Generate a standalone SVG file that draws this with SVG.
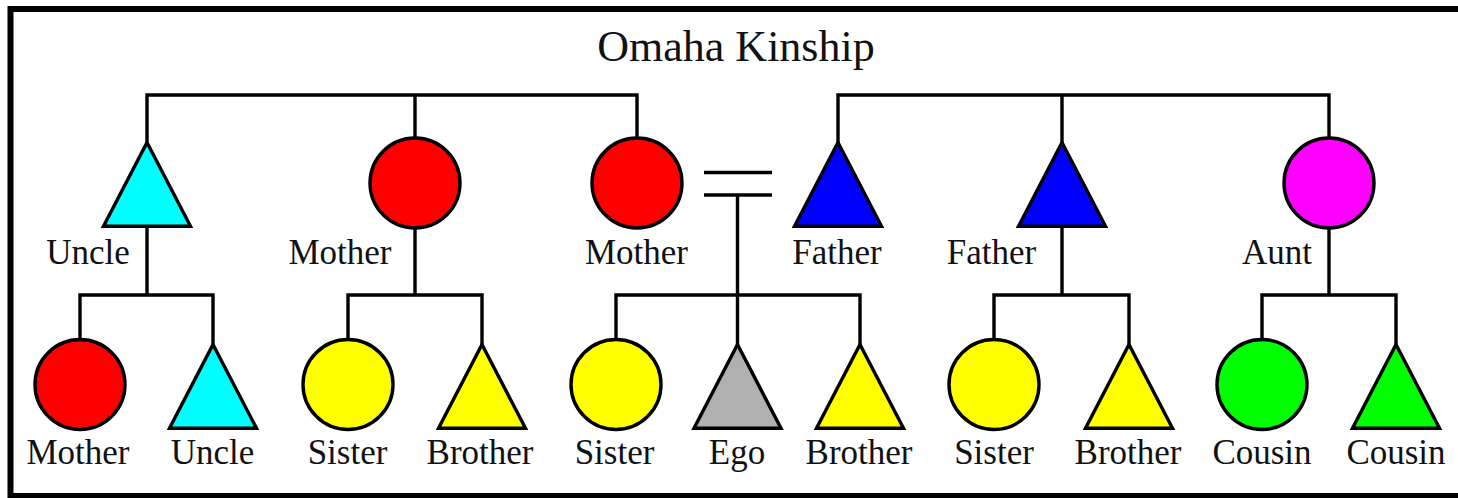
<svg xmlns="http://www.w3.org/2000/svg" width="1458" height="498" viewBox="0 0 1458 498">
<style>
.ln{fill:none;stroke:#000;stroke-width:3.4}
.nd{stroke:#000;stroke-width:3.4}
.lbl{font-family:"Liberation Serif","Times New Roman",serif;font-size:35px;fill:#111;text-anchor:middle}
.ttl{font-family:"Liberation Serif","Times New Roman",serif;font-size:44px;fill:#111;text-anchor:middle}
.cy{fill:#00FFFF}.rd{fill:#FF0000}.bl{fill:#0000FF}.mg{fill:#FF00FF}.ye{fill:#FFFF00}.gr{fill:#B0B0B0}.gn{fill:#00FF00}
</style>
<rect x="0" y="0" width="1458" height="498" fill="#fff"/>
<rect x="10.5" y="9" width="1460" height="487" fill="none" stroke="#000" stroke-width="6"/>
<text class="ttl" x="736" y="61">Omaha Kinship</text>
<g id="connectors">
<path class="ln" d="M147,143 V95 H637 V180 M415,95 V180"/>
<path class="ln" d="M838,143 V95 H1329 V180 M1062,95 V143"/>
<path class="ln" d="M147,226 V295 M80,384 V295 H213 V345"/>
<path class="ln" d="M415,228 V295 M348,384 V295 H482 V345"/>
<path class="ln" d="M704,172.5 H772 M704,195 H772 M737.5,195 V345 M616,384 V295 H860 V345"/>
<path class="ln" d="M1062,226 V295 M994,384 V295 H1129 V345"/>
<path class="ln" d="M1329,228 V295 M1262,384 V295 H1396 V345"/>
</g>
<g id="uncle-top"><path class="nd cy" d="M147,142.5 L190.5,226.3 L103.5,226.3 Z"/><text class="lbl" x="88" y="264">Uncle</text></g>
<g id="mother-top-1"><circle class="nd rd" cx="415" cy="183" r="45"/><text class="lbl" x="340" y="264">Mother</text></g>
<g id="mother-top-2"><circle class="nd rd" cx="637" cy="183" r="45"/><text class="lbl" x="636.5" y="264">Mother</text></g>
<g id="father-top-1"><path class="nd bl" d="M838,142.5 L881.5,226.3 L794.5,226.3 Z"/><text class="lbl" x="837" y="264">Father</text></g>
<g id="father-top-2"><path class="nd bl" d="M1062,142.5 L1105.5,226.3 L1018.5,226.3 Z"/><text class="lbl" x="991.5" y="264">Father</text></g>
<g id="aunt-top"><circle class="nd mg" cx="1329" cy="183" r="45"/><text class="lbl" x="1277" y="264">Aunt</text></g>
<g id="mother-bottom"><circle class="nd rd" cx="80" cy="384.5" r="45"/><text class="lbl" x="78" y="464">Mother</text></g>
<g id="uncle-bottom"><path class="nd cy" d="M213,344.5 L256.5,428.3 L169.5,428.3 Z"/><text class="lbl" x="212.5" y="464">Uncle</text></g>
<g id="sister-1"><circle class="nd ye" cx="348" cy="384.5" r="45"/><text class="lbl" x="347.5" y="464">Sister</text></g>
<g id="brother-1"><path class="nd ye" d="M482,344.5 L525.5,428.3 L438.5,428.3 Z"/><text class="lbl" x="480" y="464">Brother</text></g>
<g id="sister-2"><circle class="nd ye" cx="616" cy="384.5" r="45"/><text class="lbl" x="614.5" y="464">Sister</text></g>
<g id="ego"><path class="nd gr" d="M737.5,344.5 L781,428.3 L694,428.3 Z"/><text class="lbl" x="737" y="464">Ego</text></g>
<g id="brother-2"><path class="nd ye" d="M860,344.5 L903.5,428.3 L816.5,428.3 Z"/><text class="lbl" x="859" y="464">Brother</text></g>
<g id="sister-3"><circle class="nd ye" cx="994" cy="384.5" r="45"/><text class="lbl" x="994" y="464">Sister</text></g>
<g id="brother-3"><path class="nd ye" d="M1129,344.5 L1172.5,428.3 L1085.5,428.3 Z"/><text class="lbl" x="1128" y="464">Brother</text></g>
<g id="cousin-1"><circle class="nd gn" cx="1262" cy="384.5" r="45"/><text class="lbl" x="1262" y="464">Cousin</text></g>
<g id="cousin-2"><path class="nd gn" d="M1396,344.5 L1439.5,428.3 L1352.5,428.3 Z"/><text class="lbl" x="1396" y="464">Cousin</text></g>
</svg>
